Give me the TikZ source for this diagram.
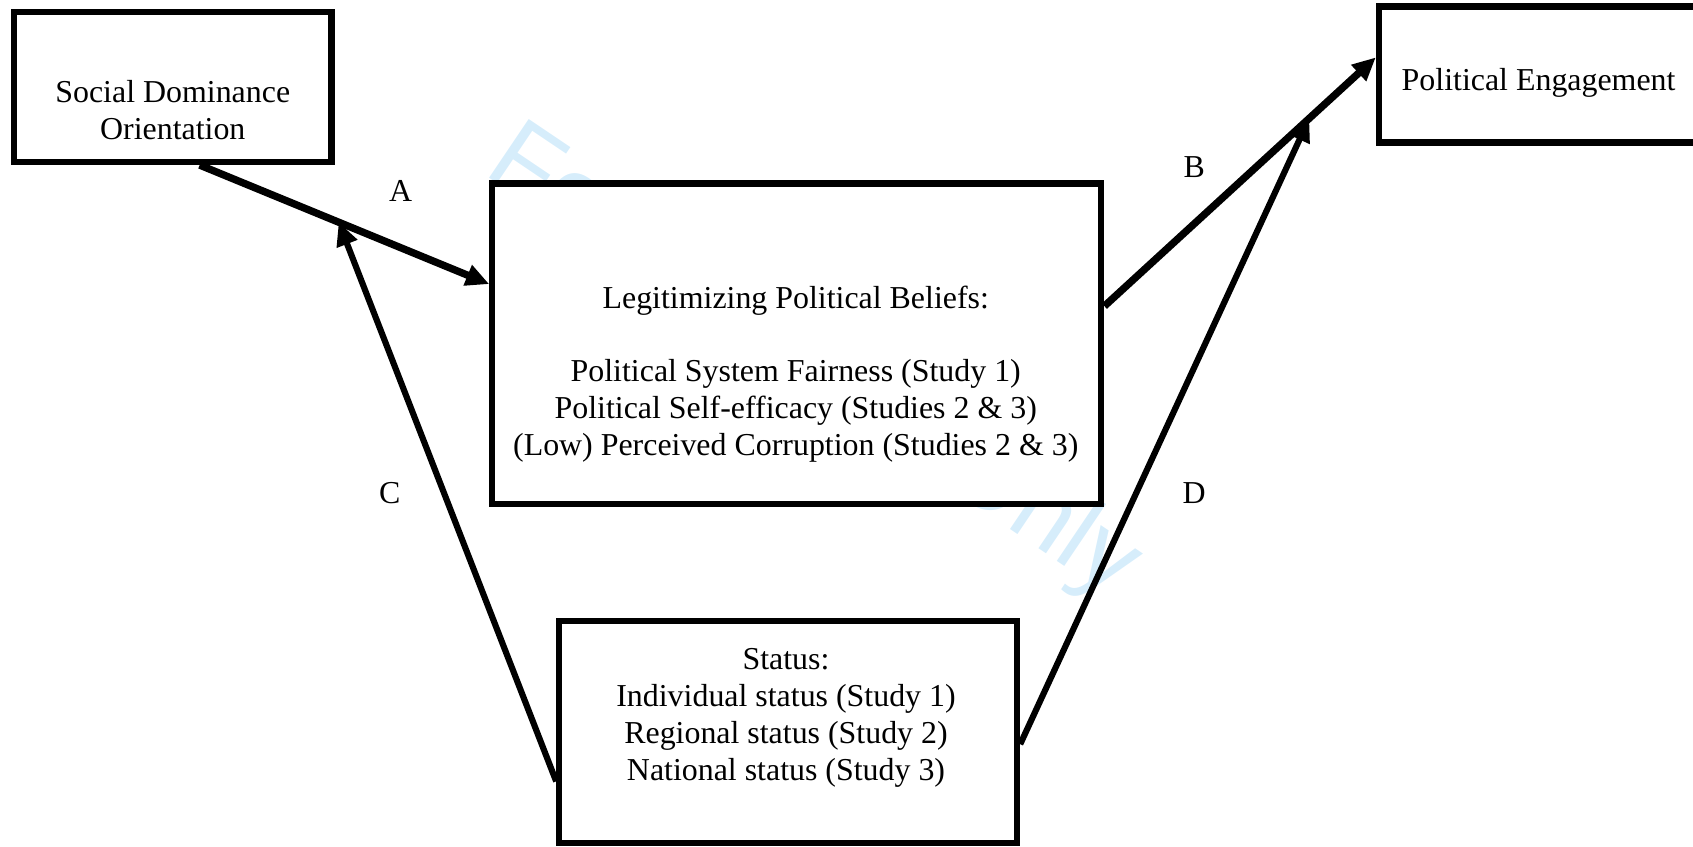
\documentclass[tikz,border=0pt]{standalone}
\usepackage{fontspec}
\setmainfont{Liberation Serif}
\newfontfamily\markfont{Liberation Sans}
\usepackage{xcolor}
\usetikzlibrary{arrows.meta}
\usetikzlibrary{positioning}
\definecolor{markblue}{RGB}{214,237,251}

\begin{document}
\begin{tikzpicture}[x=0.44pt, y=-0.44pt,
    box/.style={draw, line width=2.5pt, fill=white, inner sep=0pt},
    txt/.style={align=center, font=\fontsize{13}{15}\selectfont},
    path/.style={->, line width=2.5pt, >={Triangle[length=9.5pt, width=8.5pt]}},
    main path/.style={path, line width=3pt}]
    \useasboundingbox (0, 0) rectangle (1568, 784);

    % watermark behind everything
    \node(mark) [anchor=base west, rotate=-34, text=markblue, font=\markfont\fontsize{42}{42}\selectfont] at (440, 156) {For Review Only};

    \node(sdo) [box, minimum width=129.4pt, minimum height=61.2pt] at (160, 80.5) {};
    \node(beliefs) [box, minimum width=248.2pt, minimum height=130.7pt] at (738, 318.5) {};
    \node(engage) [box, minimum width=130.2pt, minimum height=55.4pt] at (1425, 69) {};
    \node(status) [box, minimum width=186.6pt, minimum height=90.6pt] at (730, 678) {};

    \node(sdo-txt) [txt] at (160, 102) {Social Dominance\\Orientation};
    \node(beliefs-txt) [txt] at (737, 346.5) {Legitimizing Political Beliefs:\\[15pt]Political System Fairness (Study 1)\\Political Self-efficacy (Studies 2 \& 3)\\(Low) Perceived Corruption (Studies 2 \& 3)};
    \node(engage-txt) [txt] at (1425, 77) {Political Engagement};
    \node(status-txt) [txt] at (728, 665) {Status:\\Individual status (Study 1)\\Regional status (Study 2)\\National status (Study 3)};

    \draw[main path] (sdo.-71.7) -- coordinate[pos=0.48] (a-mid) (beliefs.169.85);
    \draw[main path] (beliefs.7.2) -- coordinate[pos=0.755] (b-mid) (engage.174.6);
    \draw[path] (status.192.5) -- (a-mid);
    \draw[path] (status.-3.2) -- (b-mid);

    \node(lbl-a) [txt] at (371, 177) {A};
    \node(lbl-b) [txt] at (1106, 155) {B};
    \node(lbl-c) [txt] at (361, 457) {C};
    \node(lbl-d) [txt] at (1106, 457) {D};
\end{tikzpicture}
\end{document}
